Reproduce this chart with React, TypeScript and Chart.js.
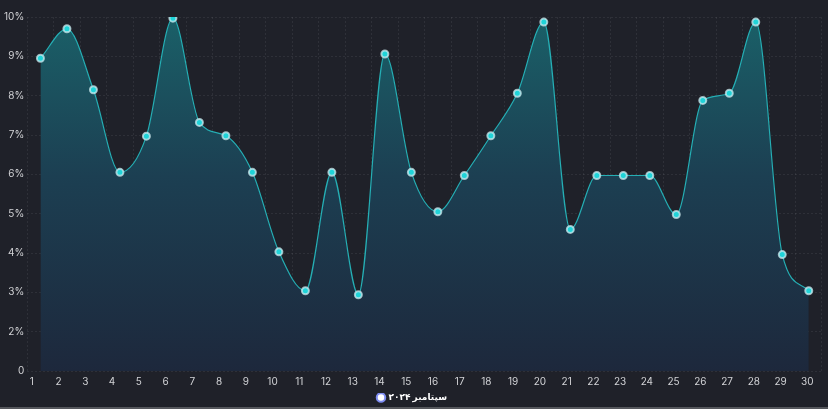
import React, { useEffect, useRef } from "react";
import { Chart, registerables } from "chart.js";

Chart.register(...registerables);

const DAYS: string[] = Array.from({ length: 30 }, (_, i) => String(i + 1));
const VALUES: number[] = [
  8.95, 9.7, 8.15, 6.05, 6.97, 9.97, 7.32, 6.98, 6.05, 4.03,
  3.04, 6.05, 2.94, 9.06, 6.05, 5.05, 5.97, 6.98, 8.06, 9.87,
  4.6, 5.97, 5.97, 5.97, 4.98, 7.88, 8.06, 9.87, 3.96, 3.04,
];
const SERIES_LABEL = "سپتامبر ۲۰۲۴";
const Y_TICKS: number[] = [1, 2, 3, 4, 5, 6, 7, 8, 9, 10];

const BG = "#1f2129";
const FONT = "Inter, 'DejaVu Sans', sans-serif";

export default function App() {
  const ref = useRef<HTMLCanvasElement | null>(null);

  useEffect(() => {
    document.body.style.margin = "0";
    document.body.style.background = "#55575c";
    const canvas = ref.current;
    if (!canvas) return;

    const chart = new Chart(canvas, {
      type: "line",
      data: {
        labels: DAYS,
        datasets: [
          {
            label: SERIES_LABEL,
            data: VALUES,
            borderColor: "#25aeb4",
            borderWidth: 1.2,
            fill: "start",
            backgroundColor: (ctx: any) => {
              const area = ctx.chart.chartArea;
              if (!area) return "rgba(27,94,102,0.6)";
              const g = ctx.chart.ctx.createLinearGradient(0, area.top, 0, area.bottom);
              g.addColorStop(0, "#1a6068");
              g.addColorStop(0.45, "#1c3f52");
              g.addColorStop(1, "#1d283c");
              return g;
            },
            cubicInterpolationMode: "monotone",
            pointRadius: 3.5,
            pointHoverRadius: 4,
            pointBackgroundColor: "#1fd3d8",
            pointBorderColor: "rgba(205,232,238,0.75)",
            pointBorderWidth: 2,
          },
        ],
      },
      options: {
        animation: false,
        responsive: true,
        maintainAspectRatio: false,
        layout: { padding: { left: 1, right: 4, top: 17, bottom: -5 } },
        scales: {
          x: {
            type: "category",
            offset: true,
            grid: {
              offset: true,
              color: "rgba(255,255,255,0.07)",
              drawTicks: false,
            },
            border: { display: false, dash: [2, 2] },
            ticks: { display: false },
          },
          x2: {
            type: "linear",
            position: "bottom",
            min: 0.825,
            max: 30.55,
            afterBuildTicks: (scale: any) => {
              scale.ticks = DAYS.map((_, i) => ({ value: i + 1 }));
            },
            grid: { display: false, drawTicks: false },
            border: { display: false },
            ticks: {
              autoSkip: false,
              maxRotation: 0,
              padding: 5,
              color: "#d2d3d6",
              font: { family: FONT, size: 10 },
              callback: (v: any) => DAYS[Number(v) - 1] ?? "",
            },
          },
          y: {
            min: 1,
            max: 10,
            afterBuildTicks: (scale: any) => {
              scale.ticks = Y_TICKS.map((v) => ({ value: v }));
            },
            grid: { color: "rgba(255,255,255,0.07)", drawTicks: false },
            border: { display: false, dash: [2, 2] },
            ticks: {
              padding: 3,
              color: "#d2d3d6",
              font: { family: FONT, size: 10 },
              callback: (v: any) => (Number(v) === 1 ? "0" : `${v}%`),
            },
          },
        },
        plugins: {
          legend: {
            position: "bottom",
            labels: {
              usePointStyle: true,
              pointStyle: "circle",
              boxWidth: 6,
              boxHeight: 6,
              padding: 0,
              color: "#ffffff",
              font: { family: FONT, size: 9, weight: "bold" },
              generateLabels: (c: any) =>
                Chart.defaults.plugins.legend.labels
                  .generateLabels(c)
                  .map((l: any) => ({
                    ...l,
                    fillStyle: "#ffffff",
                    strokeStyle: "#7d8cf2",
                    lineWidth: 2,
                    pointStyle: "circle",
                  })),
            },
          },
          tooltip: { enabled: false },
        },
      },
    } as any);

    return () => chart.destroy();
  }, []);

  return (
    <div style={{ width: 828, height: 407, background: BG, position: "relative" }}>
      <canvas ref={ref} />
    </div>
  );
}
